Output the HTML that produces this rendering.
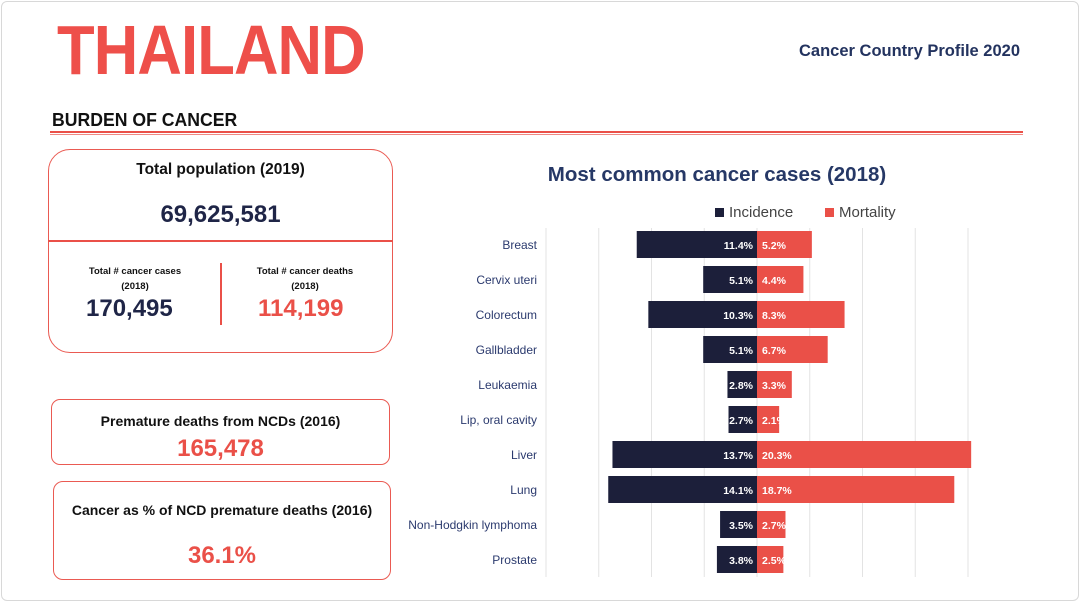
<!DOCTYPE html>
<html><head><meta charset="utf-8"><style>
body{margin:0;width:1080px;height:602px;background:#fff;font-family:"Liberation Sans",sans-serif;position:relative;overflow:hidden}
.abs{position:absolute}
.b{font-weight:bold}
.navy{color:#1f2547}
.red{color:#ea5048}
.box{position:absolute;border:1.3px solid #ea5a52;box-sizing:border-box}
.c{text-align:center}
</style></head><body>
<div class="abs" style="left:1px;top:1px;width:1076px;height:598px;border:1px solid #d8d8d8;border-radius:6px"></div>
<div class="abs b red" style="left:57px;top:10px;font-size:70px;color:#ee4f4a;transform:scaleX(0.88);transform-origin:left top;letter-spacing:-1px">THAILAND</div>
<div class="abs b" style="right:60px;top:42px;font-size:16.5px;color:#23335f">Cancer Country Profile 2020</div>
<div class="abs b" style="left:52px;top:110px;font-size:18px;color:#111;transform:scaleX(0.98);transform-origin:left">BURDEN OF CANCER</div>
<div class="abs" style="left:50px;top:131px;width:973px;height:2px;background:#ea5048"></div>
<div class="abs" style="left:50px;top:134px;width:973px;height:1px;background:#f08a84"></div>

<div class="box" style="left:48px;top:149px;width:345px;height:204px;border-radius:22px"></div>
<div class="abs b c" style="left:48px;top:161px;width:345px;font-size:15.5px;color:#111">Total population (2019)</div>
<div class="abs b c navy" style="left:48px;top:201px;width:345px;font-size:24px">69,625,581</div>
<div class="abs" style="left:48px;top:240px;width:345px;height:2px;background:#ea5048"></div>
<div class="abs" style="left:220px;top:263px;width:2px;height:62px;background:#ea5048"></div>
<div class="abs b c" style="left:70px;top:264px;width:130px;font-size:9.5px;line-height:15px;color:#111">Total # cancer cases<br>(2018)</div>
<div class="abs b navy" style="left:86px;top:295px;font-size:24px">170,495</div>
<div class="abs b c" style="left:240px;top:264px;width:130px;font-size:9.5px;line-height:15px;color:#111">Total # cancer deaths<br>(2018)</div>
<div class="abs b red" style="left:258px;top:295px;font-size:24px">114,199</div>

<div class="box" style="left:51px;top:399px;width:339px;height:66px;border-radius:9px"></div>
<div class="abs b c" style="left:51px;top:413px;width:339px;font-size:14px;color:#111">Premature deaths from NCDs (2016)</div>
<div class="abs b c red" style="left:51px;top:435px;width:339px;font-size:24px">165,478</div>

<div class="box" style="left:53px;top:481px;width:338px;height:99px;border-radius:10px"></div>
<div class="abs b c" style="left:53px;top:502px;width:338px;font-size:14px;color:#111">Cancer as % of NCD premature deaths (2016)</div>
<div class="abs b c red" style="left:53px;top:542px;width:338px;font-size:24px">36.1%</div>

<div class="abs b c" style="left:517px;top:163px;width:400px;font-size:20.5px;color:#263866">Most common cancer cases (2018)</div>
<div class="abs" style="left:715px;top:204px;font-size:15px;color:#444"><span style="display:inline-block;width:9px;height:9px;background:#1c1f3a;margin-right:5px"></span>Incidence</div>
<div class="abs" style="left:825px;top:204px;font-size:15px;color:#444"><span style="display:inline-block;width:9px;height:9px;background:#ea5048;margin-right:5px"></span>Mortality</div>

<svg class="abs" style="left:0;top:0" width="1080" height="602" id="chart"></svg>
<script>
const categories=["Breast","Cervix uteri","Colorectum","Gallbladder","Leukaemia","Lip, oral cavity","Liver","Lung","Non-Hodgkin lymphoma","Prostate"];
const incidence=[11.4,5.1,10.3,5.1,2.8,2.7,13.7,14.1,3.5,3.8];
const mortality=[5.2,4.4,8.3,6.7,3.3,2.1,20.3,18.7,2.7,2.5];
const gridTicks=[-20,-15,-10,-5,0,5,10,15,20];
const svg=document.getElementById('chart');
const NS='http://www.w3.org/2000/svg';
const cx=757,k=10.55,top0=231,step=35,bh=27;
const x=v=>cx+v*k;
const y=i=>top0+i*step;
function mk(t,a){const e=document.createElementNS(NS,t);for(const n in a)e.setAttribute(n,a[n]);svg.appendChild(e);return e;}
gridTicks.forEach(t=>{const l=mk('line',{x1:x(t),x2:x(t),y1:228,y2:577,stroke:'#e3e3e3','stroke-width':1});

});
categories.forEach((c,i)=>{
 const r1=mk('rect',{x:x(-incidence[i]),y:y(i),width:incidence[i]*k,height:bh,fill:'#1c1f3a'});
 
 
 const r2=mk('rect',{x:cx,y:y(i),width:mortality[i]*k,height:bh,fill:'#ea5048'});
 
 
 const t1=mk('text',{x:cx-4,y:y(i)+18,'text-anchor':'end','font-size':10.5,'font-weight':'bold',fill:'#fff','font-family':'Liberation Sans'});
 t1.textContent=incidence[i].toFixed(1)+'%';
 
 
 const t2=mk('text',{x:cx+5,y:y(i)+18,'font-size':10.5,'font-weight':'bold',fill:'#fff','font-family':'Liberation Sans'});
 t2.textContent=mortality[i].toFixed(1)+'%';
 
 
 const t3=mk('text',{x:537,y:y(i)+18,'text-anchor':'end','font-size':12,fill:'#2b3a6e','font-family':'Liberation Sans'});
 t3.textContent=c;
 
 
});
</script>
</body></html>
